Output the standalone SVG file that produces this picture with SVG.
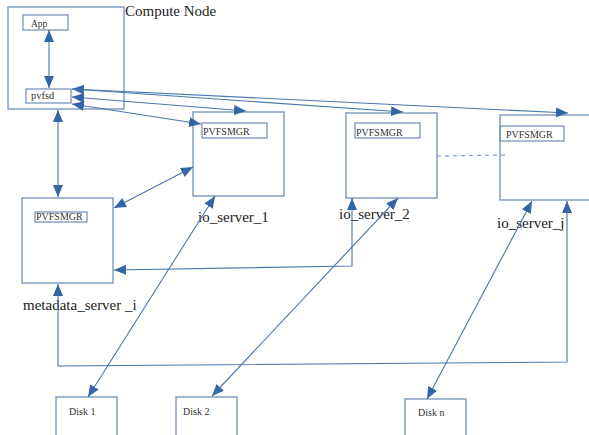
<svg xmlns="http://www.w3.org/2000/svg" width="589" height="435" viewBox="0 0 589 435">
  <defs>
    <style>
      .box { fill: #ffffff; stroke: #7d98bc; stroke-width: 1.4; }
      .inner { fill: none; stroke: #6f8cb3; stroke-width: 1.2; }
      .disk { fill: #ffffff; stroke: #8aa3c4; stroke-width: 1.6; }
      .link { fill: none; stroke: #4a76ad; stroke-width: 1.1; }
      .both { marker-start: url(#head); marker-end: url(#head); }
      .end { marker-end: url(#head); }
      .dash { fill: none; stroke: #7d98c4; stroke-width: 1.1; stroke-dasharray: 4 4; }
      .label { font-family: "Liberation Serif", "Times New Roman", serif; font-size: 15px; fill: #222222; }
      .small { font-family: "Liberation Serif", "Times New Roman", serif; font-size: 10px; fill: #333333; }
    </style>
    <marker id="head" viewBox="0 0 12 10" refX="12" refY="5" markerWidth="12" markerHeight="10" markerUnits="userSpaceOnUse" orient="auto-start-reverse">
      <path d="M0,0 L12,5 L0,10 z" fill="#3465a4"/>
    </marker>
  </defs>

  <rect width="589" height="435" fill="#ffffff"/>

  <!-- compute node with its application and pvfsd daemon -->
  <g id="compute-node">
    <rect class="box" x="8" y="7" width="116" height="102"/>
    <text class="label" x="125" y="16">Compute Node</text>
  </g>
  <g id="app">
    <rect class="inner" x="23" y="15" width="45" height="15"/>
    <text class="small" x="31" y="27" style="font-size:9.5px">App</text>
  </g>
  <g id="pvfsd">
    <rect class="inner" x="26" y="89" width="45" height="14"/>
    <text class="small" x="31" y="99" style="font-size:10.5px">pvfsd</text>
  </g>

  <!-- metadata server -->
  <g id="metadata-server">
    <rect class="box" x="22" y="198" width="91" height="85"/>
    <rect class="inner" x="35" y="212" width="52" height="10"/>
    <text class="small" x="36" y="220">PVFSMGR</text>
    <text class="label" x="23" y="310">metadata_server _i</text>
  </g>

  <!-- io servers -->
  <g id="io-server-1">
    <rect class="box" x="193" y="112" width="91" height="84"/>
    <rect class="inner" x="202" y="123" width="65" height="15"/>
    <text class="small" x="203" y="135">PVFSMGR</text>
    <text class="label" x="198" y="222">io_server_1</text>
  </g>
  <g id="io-server-2">
    <rect class="box" x="346" y="113" width="91" height="85"/>
    <rect class="inner" x="355" y="123" width="65" height="15"/>
    <text class="small" x="356" y="136">PVFSMGR</text>
    <text class="label" x="339" y="219">io_server_2</text>
  </g>
  <g id="io-server-j">
    <rect class="box" x="500" y="115" width="95" height="85"/>
    <rect class="inner" x="500" y="126" width="64" height="15"/>
    <text class="small" x="506" y="138">PVFSMGR</text>
    <text class="label" x="497" y="228">io_server_j</text>
  </g>

  <!-- disks -->
  <g id="disk-1">
    <rect class="disk" x="56" y="397" width="61" height="45"/>
    <text class="small" x="69" y="415">Disk  1</text>
  </g>
  <g id="disk-2">
    <rect class="disk" x="176" y="397" width="61" height="45"/>
    <text class="small" x="183" y="415">Disk  2</text>
  </g>
  <g id="disk-n">
    <rect class="disk" x="405" y="399" width="61" height="45"/>
    <text class="small" x="418" y="416">Disk  n</text>
  </g>

  <!-- connectors -->
  <g id="connectors">
    <path class="link both" d="M49,30 L49,88"/>
    <path class="link both" d="M58,110 L58,197"/>
    <path class="link both" d="M72,89 L568,113"/>
    <path class="link end" d="M72,89 L403,112"/>
    <path class="link both" d="M72,97 L246,111"/>
    <path class="link both" d="M72,104 L201,124"/>
    <path class="link both" d="M193,167 L114,208"/>
    <path class="link both" d="M114,270 L352,266 L352,198"/>
    <path class="link both" d="M58,284 L58,366 L567,362 L567,201"/>
    <path class="link both" d="M215,196 L88,397"/>
    <path class="link both" d="M398,198 L212,396"/>
    <path class="link both" d="M532,201 L427,399"/>
    <path class="dash" d="M437,156 L507,155"/>
  </g>
</svg>
